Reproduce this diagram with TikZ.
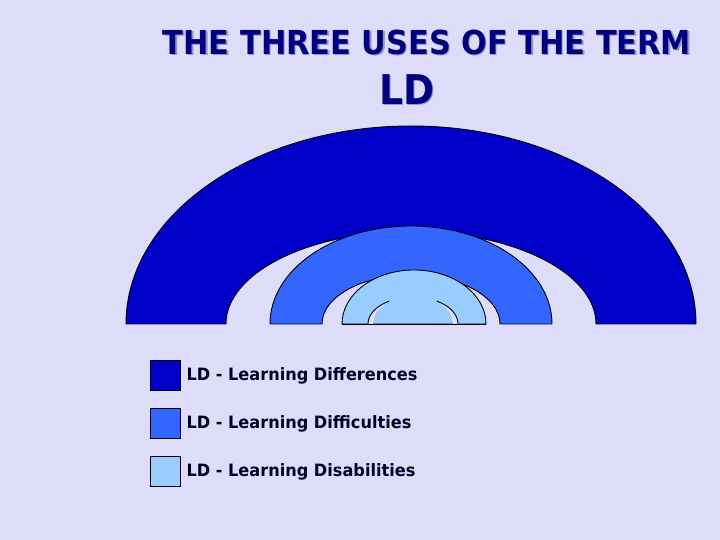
\documentclass[tikz,border=0pt]{standalone}
\usepackage{fontspec}
\setmainfont{DejaVu Sans}
\usetikzlibrary{positioning}
\definecolor{bgcol}{RGB}{221,221,249}
\definecolor{diffcol}{RGB}{0,0,200}
\definecolor{difccol}{RGB}{51,102,255}
\definecolor{discol}{RGB}{153,204,255}
\definecolor{titlecol}{RGB}{0,0,128}
\definecolor{shadowcol}{RGB}{150,150,190}
\definecolor{palecol}{RGB}{218,226,250}
\newcommand{\shadowtext}[1]{\scalebox{0.92}[1]{\makebox[0pt][l]{\kern1.6pt\raisebox{-1.6pt}{\color{shadowcol}#1}}#1}}
\begin{document}
\begin{tikzpicture}
  [x=1pt,y=1pt,
   arch/.style={draw=black,line width=0.9pt},
   key/.style={draw=black,line width=0.6pt,minimum size=30pt,inner sep=0pt},
   keytext/.style={font=\bfseries\fontsize{17}{20}\selectfont,text=black!85!blue,anchor=west},
   ttl/.style={font=\bfseries\fontsize{#1}{#1}\selectfont,text=titlecol}]
  \useasboundingbox[fill=bgcol] (0,0) rectangle (720,540);

  \node[ttl=33] (title) at (427,497) {\shadowtext{THE THREE USES OF THE TERM}};
  \node[ttl=41] (ld) at (407,450) {\shadowtext{LD}};

  % arches
  \draw[arch,fill=diffcol] (126,216) arc[start angle=180,end angle=0,x radius=285,y radius=198]
    -- (596,216) arc[start angle=0,end angle=180,x radius=185,y radius=92.5] -- cycle;
  \draw[arch,fill=difccol] (270,216) arc[start angle=180,end angle=0,x radius=141,y radius=98]
    -- (500,216) arc[start angle=0,end angle=180,x radius=89,y radius=49] -- cycle;
  \draw[arch,fill=discol] (342,216) arc[start angle=180,end angle=0,x radius=72,y radius=54] -- cycle;
  \fill[palecol] (368,216) arc[start angle=180,end angle=122,x radius=45,y radius=27]
    .. controls (375,228) .. (373,216) -- cycle;
  \fill[palecol] (458,216) arc[start angle=0,end angle=58,x radius=45,y radius=27]
    .. controls (451,228) .. (453,216) -- cycle;
  \draw[arch] (368,216) arc[start angle=180,end angle=122,x radius=45,y radius=27];
  \draw[arch] (458,216) arc[start angle=0,end angle=58,x radius=45,y radius=27];
  \draw[arch] (342,216) -- (486,216);

  % legend
  \node[key,fill=diffcol] (k1) at (165,165) {};
  \node[key,fill=difccol] (k2) at (165,117) {};
  \node[key,fill=discol] (k3) at (165,69) {};
  \node[keytext] (t1) at (183,164) {\scalebox{0.95}[1]{LD - Learning Differences}};
  \node[keytext] (t2) at (183,116) {\scalebox{0.95}[1]{LD - Learning Difficulties}};
  \node[keytext] (t3) at (183,68) {\scalebox{0.95}[1]{LD - Learning Disabilities}};
\end{tikzpicture}
\end{document}
